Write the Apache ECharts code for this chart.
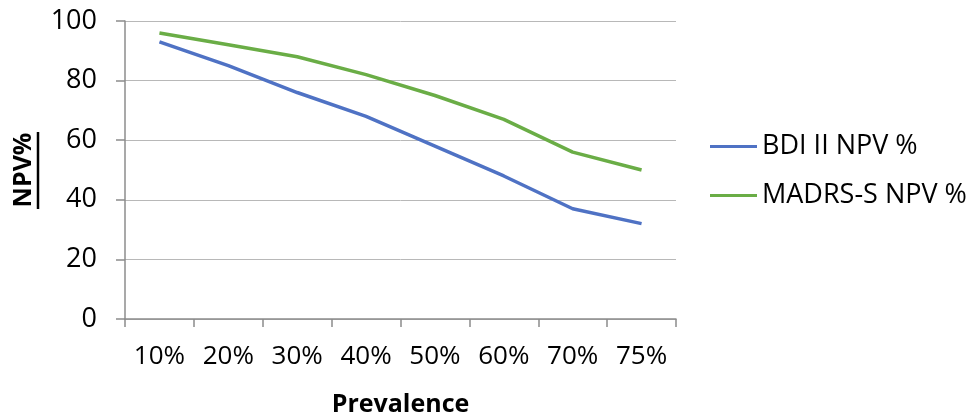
<!DOCTYPE html>
<html><head><meta charset="utf-8">
<script src="https://cdn.jsdelivr.net/npm/echarts@6/dist/echarts.min.js"></script>
<style>html,body{margin:0;padding:0;background:#fff}#c{width:971px;height:417px}</style>
</head><body><div id="c"></div>
<script>
const categories = ['10%','20%','30%','40%','50%','60%','70%','75%'];
const bdi = [93, 85, 76, 68, 58, 48, 37, 32];
const madrs = [96, 92, 88, 82, 75, 67, 56, 50];
const seriesNames = ['BDI II NPV %', 'MADRS-S NPV %'];
const ff = '"Open Sans", "Liberation Sans", sans-serif';
const chart = echarts.init(document.getElementById('c'), null, {renderer:'canvas'});
chart.setOption({
  animation:false,
  grid:{left:125,right:295,top:21,bottom:98,containLabel:false,outerBoundsMode:'none'},
  legend:{orient:'vertical',left:705,top:128,itemWidth:47,itemHeight:3,itemGap:22,
    icon:'rect',textStyle:{fontFamily:ff,fontSize:27,color:'#000',padding:[0,0,0,0]},
    data:seriesNames},
  xAxis:{type:'category',data:categories,boundaryGap:true,
    name:'Prevalence',nameLocation:'middle',nameGap:73,
    nameTextStyle:{fontFamily:ff,fontSize:25,fontWeight:'bold',color:'#000'},
    axisLine:{lineStyle:{color:'#8c8c8c',width:1.5}},
    axisTick:{show:true,length:8,inside:false,alignWithLabel:false,lineStyle:{color:'#8c8c8c',width:1.5}},
    axisLabel:{fontFamily:ff,fontSize:26,color:'#000',margin:25}},
  yAxis:{type:'value',min:0,max:100,interval:20,
    name:'NPV%',nameLocation:'middle',nameGap:89,
    nameTextStyle:{fontFamily:ff,fontSize:25,fontWeight:'bold',color:'#000'},
    axisLine:{show:true,lineStyle:{color:'#8c8c8c',width:1.5}},
    axisTick:{show:true,length:9,lineStyle:{color:'#8c8c8c',width:1.5}},
    splitLine:{lineStyle:{color:'#b8b8b8',width:1}},
    axisLabel:{fontFamily:ff,fontSize:27,color:'#000',margin:28}},
  series:[
    {name:seriesNames[0],type:'line',data:bdi,symbol:'none',lineStyle:{color:'#4f72c4',width:3.5},itemStyle:{color:'#4f72c4'}},
    {name:seriesNames[1],type:'line',data:madrs,symbol:'none',lineStyle:{color:'#6aad46',width:3.5},itemStyle:{color:'#6aad46'}}
  ],
  graphic:[{type:'line',shape:{x1:38,y1:132,x2:38,y2:209},style:{stroke:'#000',lineWidth:2.5}}]
});
</script></body></html>
